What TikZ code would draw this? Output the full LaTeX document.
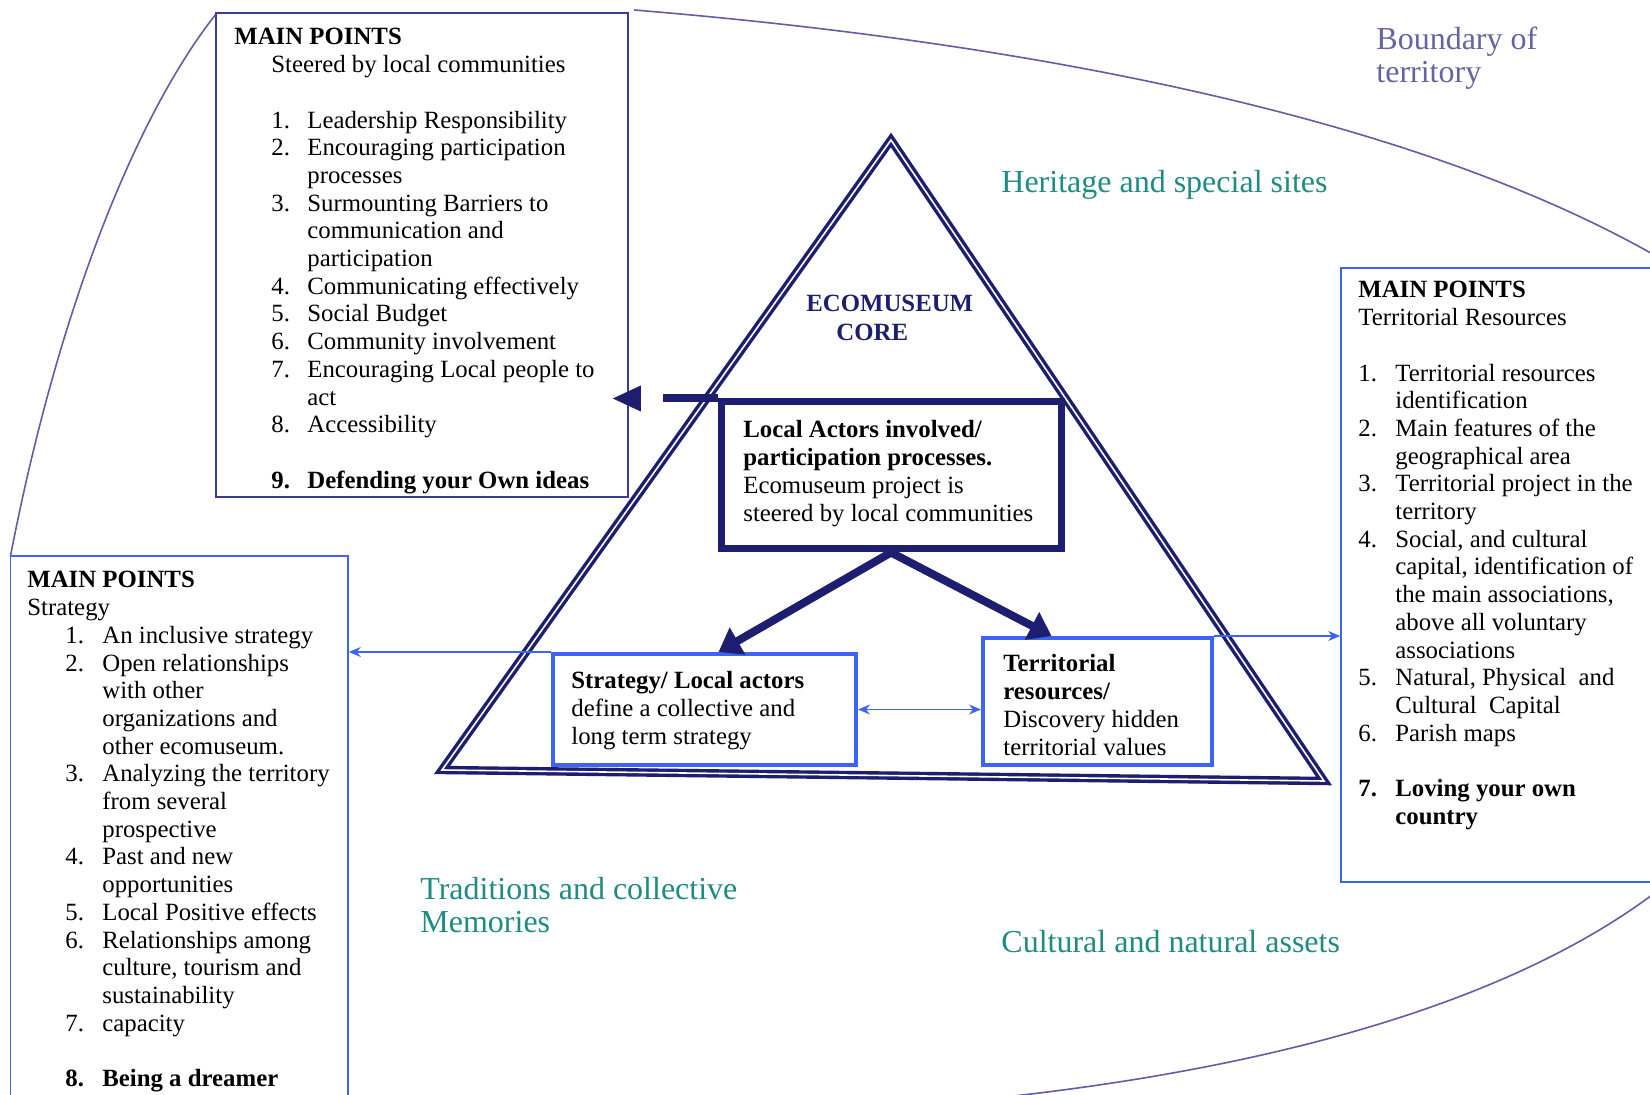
\documentclass[tikz,border=0pt]{standalone}
\usepackage{fontspec}
\setmainfont{Liberation Serif}
\usetikzlibrary{arrows.meta,fit}

\definecolor{navyline}{RGB}{30,30,112}
\definecolor{boxnavy}{RGB}{60,60,150}
\definecolor{brightblue}{RGB}{60,100,245}
\definecolor{boundcol}{RGB}{95,95,165}
\definecolor{slatetext}{RGB}{100,100,165}
\definecolor{tealtext}{RGB}{30,140,130}

\newcommand{\bodyfont}{\fontsize{12.4}{13.85}\selectfont}
\newcommand{\labelfont}{\fontsize{16}{16.3}\selectfont}

\begin{document}
\begin{tikzpicture}[x=0.5pt, y=-0.5pt,
	listbox/.style={draw=brightblue, line width=0.8pt, inner sep=0pt},
	corebox/.style={draw=navyline, line width=3.5pt, inner sep=0pt},
	smallbox/.style={draw=brightblue, line width=2pt, inner sep=0pt},
	boxtext/.style={anchor=base west, inner sep=0pt, font=\bodyfont},
	areatext/.style={anchor=base west, inner sep=0pt, font=\labelfont, text=tealtext},
	bigarrow/.style={draw=navyline, line width=4pt, -{Triangle[length=11pt,width=15pt]}},
	thinarrow/.style={draw=brightblue, line width=0.6pt, -{Stealth[length=6pt,width=5pt]}}]
	\useasboundingbox (0,0) rectangle (1650,1095);
	\clip (0,0) rectangle (1650,1095);
	\fill[white] (0,0) rectangle (1650,1095);

	% Boundary of territory
	\draw[boundcol, line width=0.8pt] (216,14) .. controls (140,110) and (60,300) .. (10.5,556);
	\draw[boundcol, line width=0.8pt] (634,10) .. controls (1000,40) and (1400,110) .. (1656,256);
	\draw[boundcol, line width=0.8pt] (1656,892) .. controls (1500,1010) and (1250,1070) .. (1005,1097);
	\node[anchor=base west, inner sep=0pt, font=\labelfont, text=slatetext] (bound) at (1376,50)
		{\begin{tabular}[t]{@{}l@{}}Boundary of\\territory\end{tabular}};

	% Areas of the territory
	\node[areatext] (heritage) at (1001,193) {Heritage and special sites};
	\node[areatext] (traditions) at (420,900)
		{\begin{tabular}[t]{@{}l@{}}Traditions and collective\\Memories\end{tabular}};
	\node[areatext] (cultural) at (1001,953) {Cultural and natural assets};

	% Ecomuseum triangle
	\draw[navyline, line width=1.7pt, double=white, double distance=0.8pt, line join=miter]
		(891,140) -- (1324,781) -- (442,770) -- cycle;
	\node[anchor=base west, inner sep=0pt, text=navyline, font=\fontsize{12.4}{14.25}\selectfont\bfseries] (coretitle) at (806,312)
		{\begin{tabular}[t]{@{}l@{}}ECOMUSEUM\\\hspace*{15pt}CORE\end{tabular}};

	% Core box
	\node[corebox, fit={(721,402) (1061,549)}] (core) {};
	\node[boxtext] (coretxt) at (743,438)
		{\begin{tabular}[t]{@{}l@{}}\textbf{Local Actors involved/}\\\textbf{participation processes.}\\Ecomuseum project is\\steered by local communities\end{tabular}};

	% Strategy box
	\node[smallbox, fit={(553,654) (856,765)}] (strat) {};
	\node[boxtext] (strattxt) at (571,689)
		{\begin{tabular}[t]{@{}l@{}}\textbf{Strategy/ Local actors}\\define a collective and\\long term strategy\end{tabular}};

	% Territorial box
	\node[smallbox, fit={(983,638) (1212,765)}] (terr) {};
	\node[boxtext] (terrtxt) at (1003,672)
		{\begin{tabular}[t]{@{}l@{}}\textbf{Territorial}\\\textbf{resources/}\\Discovery hidden\\territorial values\end{tabular}};

	% Main points: steered by local communities
	\node[listbox, draw=boxnavy, fit={(216,13) (628,497)}] (steer) {};
	\node[boxtext] (steertxt) at (271,45)
		{\begin{tabular}[t]{@{}p{18pt}@{}l@{}}
		\multicolumn{2}{@{}l@{}}{\hspace*{-18.5pt}\textbf{MAIN POINTS}}\\
		\multicolumn{2}{@{}l@{}}{Steered by local communities}\\
		&\\
		1. & Leadership Responsibility\\
		2. & Encouraging participation\\
		   & processes\\
		3. & Surmounting Barriers to\\
		   & communication and\\
		   & participation\\
		4. & Communicating effectively\\
		5. & Social Budget\\
		6. & Community involvement\\
		7. & Encouraging Local people to\\
		   & act\\
		8. & Accessibility\\
		&\\
		\textbf{9.} & \textbf{Defending your Own ideas}
		\end{tabular}};

	% Main points: strategy
	\node[listbox, fit={(10.5,556) (348,1120)}] (stratlist) {};
	\node[boxtext] (stratlisttxt) at (65,588)
		{\begin{tabular}[t]{@{}p{18.5pt}@{}l@{}}
		\multicolumn{2}{@{}l@{}}{\hspace*{-19pt}\textbf{MAIN POINTS}}\\
		\multicolumn{2}{@{}l@{}}{\hspace*{-19pt}Strategy}\\
		1. & An inclusive strategy\\
		2. & Open relationships\\
		   & with other\\
		   & organizations and\\
		   & other ecomuseum.\\
		3. & Analyzing the territory\\
		   & from several\\
		   & prospective\\
		4. & Past and new\\
		   & opportunities\\
		5. & Local Positive effects\\
		6. & Relationships among\\
		   & culture, tourism and\\
		   & sustainability\\
		7. & capacity\\
		&\\
		\textbf{8.} & \textbf{Being a dreamer}
		\end{tabular}};

	% Main points: territorial resources
	\node[listbox, fit={(1341,268) (1700,882)}] (terrlist) {};
	\node[boxtext] (terrlisttxt) at (1358,298)
		{\begin{tabular}[t]{@{}p{18.5pt}@{}l@{}}
		\multicolumn{2}{@{}l@{}}{\textbf{MAIN POINTS}}\\
		\multicolumn{2}{@{}l@{}}{Territorial Resources}\\
		&\\
		1. & Territorial resources\\
		   & identification\\
		2. & Main features of the\\
		   & geographical area\\
		3. & Territorial project in the\\
		   & territory\\
		4. & Social, and cultural\\
		   & capital, identification of\\
		   & the main associations,\\
		   & above all voluntary\\
		   & associations\\
		5. & Natural, Physical\ \ and\\
		   & Cultural\ \ Capital\\
		6. & Parish maps\\
		&\\
		\textbf{7.} & \textbf{Loving your own}\\
		   & \textbf{country}
		\end{tabular}};

	% Connections
	\draw[bigarrow] (core.south) -- ([xshift=7pt]strat.north);
	\draw[bigarrow] (core.south) -- ([xshift=-23pt]terr.north);
	\draw[thinarrow, {Stealth[length=6pt,width=5pt]}-{Stealth[length=6pt,width=5pt]}] (strat.east) -- (strat.east -| terr.west);
	\draw[thinarrow] (strat.north west) -- (strat.north west -| stratlist.east);
	\draw[thinarrow] (terr.north east) -- (terr.north east -| terrlist.west);
	\draw[navyline, line width=4pt] (core.north west) -- ++(-55,0);
	\coordinate (tipbase) at (steer.east |- core.north west);
	\fill[navyline] ([xshift=-8pt]tipbase) -- ++(28,-13) -- ++(0,26) -- cycle;
\end{tikzpicture}
\end{document}
